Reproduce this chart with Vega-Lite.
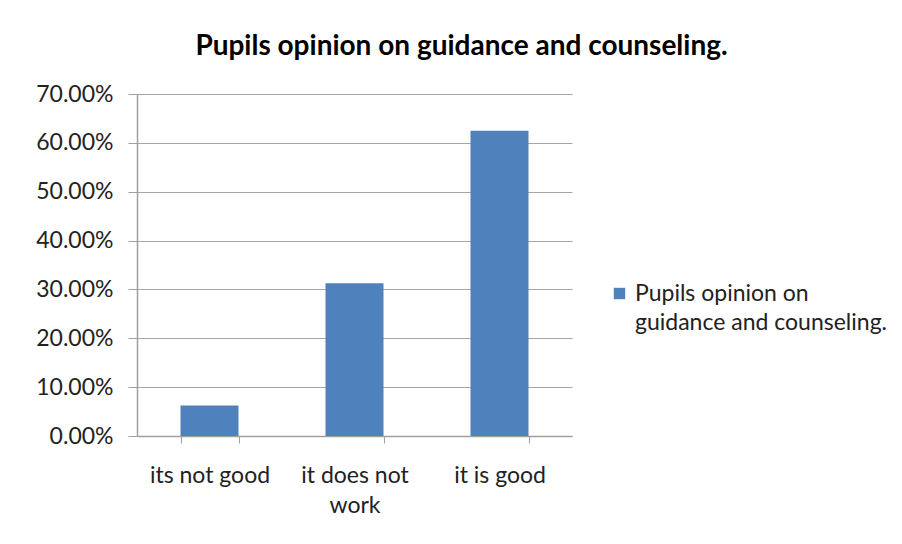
{
  "$schema": "https://vega.github.io/schema/vega-lite/v6.json",
  "width": 435,
  "height": 342,
  "autosize": {"type": "none"},
  "padding": {"left": 137, "top": 94, "right": 330, "bottom": 108},
  "background": "white",
  "title": {
    "text": "Pupils opinion on guidance and counseling.",
    "font": "Lato",
    "fontSize": 28,
    "fontWeight": "bold",
    "color": "#000000",
    "anchor": "middle",
    "frame": "group",
    "dx": 107,
    "offset": 22
  },
  "data": {
    "values": [
      {"category": "its not good", "percent": 0.0625, "series": "Pupils opinion on guidance and counseling."},
      {"category": "it does not work", "percent": 0.3125, "series": "Pupils opinion on guidance and counseling."},
      {"category": "it is good", "percent": 0.625, "series": "Pupils opinion on guidance and counseling."}
    ]
  },
  "mark": {"type": "bar"},
  "encoding": {
    "x": {
      "field": "category",
      "type": "nominal",
      "sort": null,
      "scale": {"paddingInner": 0.6, "paddingOuter": 0.3},
      "axis": {
        "title": null,
        "labelAngle": 0,
        "labelFont": "Lato",
        "labelFontSize": 23,
        "labelColor": "#222222",
        "labelPadding": 21,
        "labelLineHeight": 30,
        "labelExpr": "datum.value == 'it does not work' ? ['it does not', 'work'] : datum.value",
        "tickBand": "extent",
        "tickSize": 7,
        "tickColor": "#a0a0a0",
        "domainColor": "#a0a0a0",
        "domainWidth": 1.5,
        "grid": false
      }
    },
    "y": {
      "field": "percent",
      "type": "quantitative",
      "scale": {"domain": [0, 0.7]},
      "axis": {
        "title": null,
        "format": ".2%",
        "values": [0, 0.1, 0.2, 0.3, 0.4, 0.5, 0.6, 0.7],
        "labelFont": "Lato",
        "labelFontSize": 23,
        "labelColor": "#222222",
        "labelPadding": 15,
        "tickSize": 9,
        "tickColor": "#a0a0a0",
        "domainColor": "#a0a0a0",
        "domainWidth": 1.5,
        "grid": true,
        "gridColor": "#a6a6a6",
        "gridWidth": 1.2
      }
    },
    "color": {
      "field": "series",
      "type": "nominal",
      "scale": {"range": ["#4F81BD"]},
      "legend": {
        "title": null,
        "orient": "none",
        "legendX": 471,
        "legendY": 188,
        "symbolType": "square",
        "symbolSize": 130,
        "symbolStrokeWidth": 0,
        "labelFont": "Lato",
        "labelFontSize": 23,
        "labelColor": "#222222",
        "labelLimit": 400,
        "labelOffset": 4,
        "labelExpr": "['Pupils opinion on', 'guidance and counseling.']",
        "encode": {
          "labels": {"update": {"lineHeight": {"value": 29}}}
        }
      }
    }
  },
  "config": {"view": {"stroke": null}}
}
